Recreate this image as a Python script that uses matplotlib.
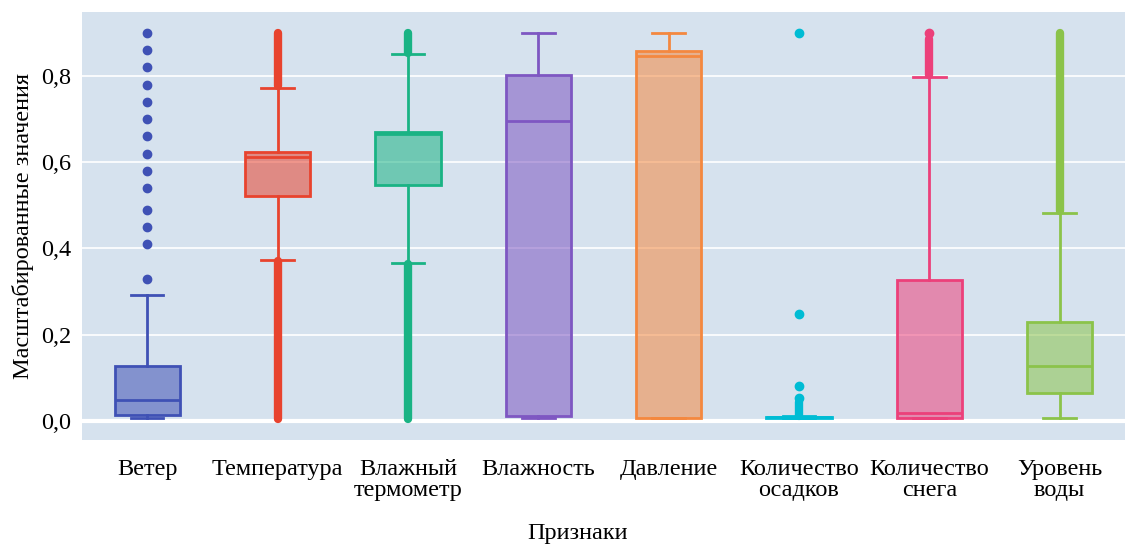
import matplotlib
matplotlib.use("Agg")
import matplotlib.pyplot as plt

# Признаки и статистики боксов
labels = ["Ветер", "Температура", "Влажный\nтермометр", "Влажность", "Давление",
          "Количество\nосадков", "Количество\nснега", "Уровень\nводы"]
colors = ["#3f51b5", "#e8432e", "#1ab384", "#7e57c2", "#f4883f",
          "#00bcd4", "#ec407a", "#8bc34a"]

q1 = [0.014, 0.522, 0.547, 0.012, 0.007, 0.008, 0.008, 0.065]
med = [0.049, 0.612, 0.665, 0.696, 0.846, 0.009, 0.018, 0.128]
q3 = [0.128, 0.624, 0.670, 0.802, 0.858, 0.010, 0.327, 0.230]
whislo = [0.007, 0.373, 0.366, 0.007, 0.007, 0.007, 0.007, 0.007]
whishi = [0.292, 0.772, 0.851, 0.900, 0.900, 0.011, 0.798, 0.482]

# отдельные выбросы
fliers = [
    [0.90, 0.86, 0.82, 0.78, 0.74, 0.70, 0.66, 0.62, 0.58, 0.54, 0.49, 0.45, 0.41, 0.33],
    [], [], [], [],
    [0.90, 0.248, 0.081, 0.054],
    [0.90],
    [],
]
# плотные выбросы, сливающиеся в линию: (индекс, низ, верх)
flier_ranges = [
    (1, 0.776, 0.900), (1, 0.004, 0.370),
    (2, 0.853, 0.900), (2, 0.004, 0.363),
    (5, 0.012, 0.045),
    (6, 0.802, 0.885),
    (7, 0.486, 0.900),
]

plt.rcParams['font.family'] = ['Liberation Serif', 'DejaVu Serif']

fig = plt.figure(figsize=(11.25, 5.48), dpi=100)
ax = fig.add_axes([0.0729, 0.197, 0.927, 0.781])
ax.set_facecolor("#d6e2ee")

pos = list(range(len(labels)))
stats = []
for i in pos:
    stats.append(dict(q1=q1[i], med=med[i], q3=q3[i], whislo=whislo[i],
                      whishi=whishi[i], fliers=fliers[i]))

for i, s in enumerate(stats):
    c = colors[i]
    ax.bxp([s], positions=[i], widths=0.5, capwidths=0.25, patch_artist=True,
           showfliers=True,
           boxprops=dict(facecolor=matplotlib.colors.to_rgba(c, 0.55), edgecolor=c, linewidth=2),
           medianprops=dict(color=c, linewidth=2),
           whiskerprops=dict(color=c, linewidth=2),
           capprops=dict(color=c, linewidth=2),
           flierprops=dict(marker='o', markersize=6, markerfacecolor=c,
                           markeredgecolor=c, linestyle='none'),
           zorder=3)

for i, lo, hi in flier_ranges:
    ax.plot([i, i], [lo, hi], color=colors[i], linewidth=6,
            solid_capstyle='round', zorder=4)

ax.set_xlim(-0.5, len(labels) - 0.5)
ax.set_ylim(-0.044, 0.948)
ax.set_yticks([0, 0.2, 0.4, 0.6, 0.8])
ax.set_yticklabels(["0,0", "0,2", "0,4", "0,6", "0,8"], fontsize=17.5)
ax.set_xticks(pos)
ax.set_xticklabels(labels, fontsize=17.5, linespacing=1.0)
ax.tick_params(length=0)
ax.tick_params(axis='y', pad=8)
ax.tick_params(axis='x', pad=14)

for y in [0.2, 0.4, 0.6, 0.8]:
    ax.axhline(y, color="white", linewidth=1.2, zorder=1)
ax.axhline(0, color="white", linewidth=3, zorder=1)

for sp in ax.spines.values():
    sp.set_visible(False)

ax.set_ylabel("Масштабированные значения", fontsize=17.5, labelpad=5)
fig.text(0.513, 0.026, "Признаки", fontsize=17.5, ha='center', va='center')

fig.savefig("out.png", dpi=100, facecolor="white")
